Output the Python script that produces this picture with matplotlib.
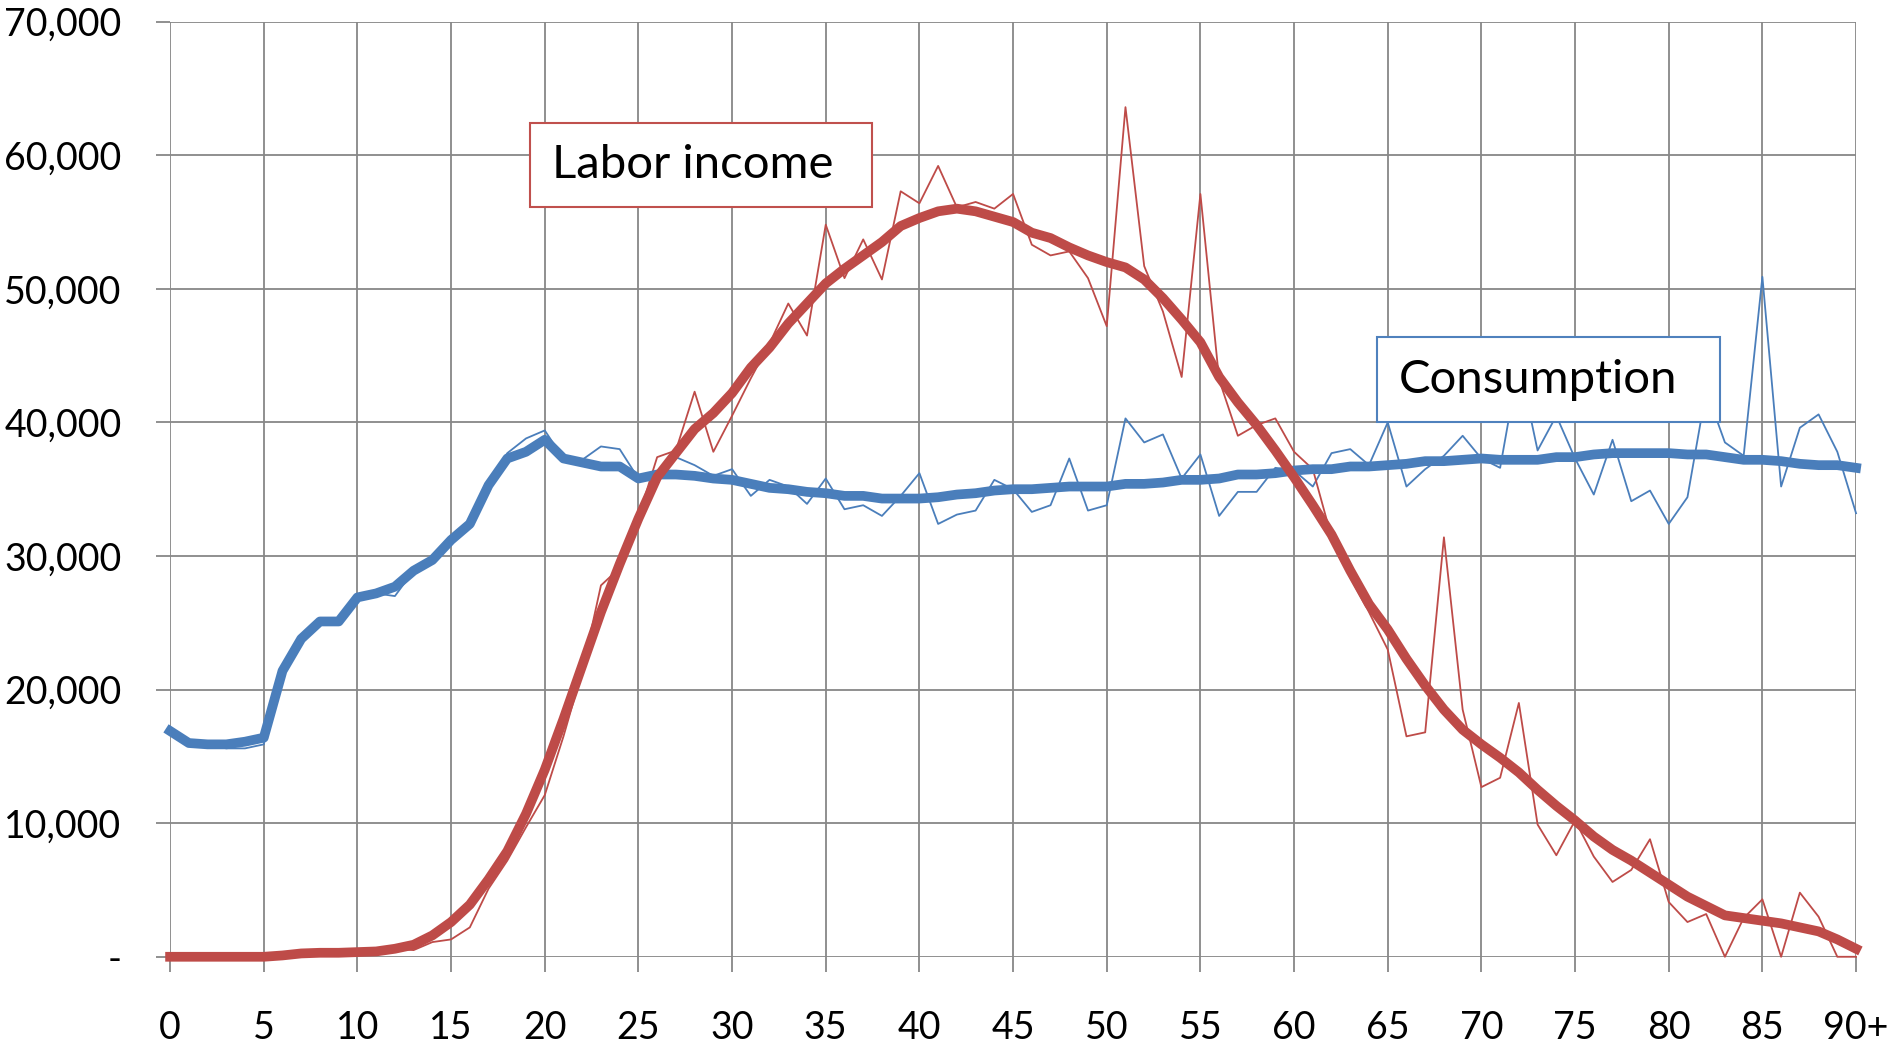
import matplotlib
matplotlib.use("Agg")
import matplotlib.pyplot as plt
from matplotlib.patches import Rectangle
from matplotlib.ticker import FuncFormatter
import numpy as np

# Ages 0..90 (last one is "90+")
ages = np.arange(0, 91)

# Consumption per capita, raw and smoothed (thousands)
consumption_raw = [
    16.9, 16.0, 15.9, 15.6, 15.6, 15.9, 21.4, 23.8, 25.1, 25.1,
    26.9, 27.2, 27.0, 28.9, 29.7, 31.2, 32.4, 35.3, 37.7, 38.8,
    39.4, 37.3, 37.2, 38.2, 38.0, 35.8, 35.8, 37.4, 36.8, 36.0,
    36.5, 34.5, 35.7, 35.2, 33.9, 35.8, 33.5, 33.8, 33.0, 34.5,
    36.2, 32.4, 33.1, 33.4, 35.7, 35.0, 33.3, 33.8, 37.3, 33.4,
    33.8, 40.3, 38.5, 39.1, 35.8, 37.6, 33.0, 34.8, 34.8, 36.6,
    36.4, 35.2, 37.7, 38.0, 36.8, 40.0, 35.2, 36.5, 37.5, 39.0,
    37.3, 36.6, 44.5, 37.9, 40.5, 37.3, 34.6, 38.7, 34.1, 34.9,
    32.4, 34.4, 42.4, 38.5, 37.5, 50.9, 35.2, 39.6, 40.6, 37.8,
    33.2,
]
consumption_smooth = [
    16.9, 16.0, 15.9, 15.9, 16.1, 16.4, 21.4, 23.8, 25.1, 25.1,
    26.9, 27.2, 27.7, 28.9, 29.7, 31.2, 32.4, 35.3, 37.3, 37.8,
    38.7, 37.3, 37.0, 36.7, 36.7, 35.8, 36.1, 36.1, 36.0, 35.8,
    35.7, 35.4, 35.1, 35.0, 34.8, 34.7, 34.5, 34.5, 34.3, 34.3,
    34.3, 34.4, 34.6, 34.7, 34.9, 35.0, 35.0, 35.1, 35.2, 35.2,
    35.2, 35.4, 35.4, 35.5, 35.7, 35.7, 35.8, 36.1, 36.1, 36.2,
    36.4, 36.5, 36.5, 36.7, 36.7, 36.8, 36.9, 37.1, 37.1, 37.2,
    37.3, 37.2, 37.2, 37.2, 37.4, 37.4, 37.6, 37.7, 37.7, 37.7,
    37.7, 37.6, 37.6, 37.4, 37.2, 37.2, 37.1, 36.9, 36.8, 36.8,
    36.6,
]

# Labor income per capita, raw and smoothed (thousands)
labor_raw = [
    0.0, 0.0, 0.0, 0.0, 0.0, 0.0, 0.1, 0.25, 0.3, 0.3,
    0.35, 0.4, 0.6, 0.5, 1.1, 1.3, 2.2, 5.1, 7.2, 9.7,
    12.1, 16.5, 21.4, 27.8, 29.1, 32.9, 37.4, 37.9, 42.3, 37.8,
    40.5, 43.3, 45.9, 48.9, 46.5, 54.8, 50.8, 53.7, 50.7, 57.3,
    56.4, 59.2, 56.1, 56.5, 56.0, 57.1, 53.3, 52.5, 52.8, 50.8,
    47.2, 63.6, 51.7, 48.3, 43.4, 57.1, 43.2, 39.0, 39.8, 40.3,
    37.8, 36.5, 31.4, 28.4, 25.8, 23.0, 16.5, 16.8, 31.4, 18.5,
    12.7, 13.4, 19.0, 9.9, 7.6, 10.2, 7.5, 5.6, 6.5, 8.8,
    4.1, 2.6, 3.2, 0.0, 2.9, 4.3, 0.0, 4.8, 3.0, 0.0,
    0.0,
]
labor_smooth = [
    0.0, 0.0, 0.0, 0.0, 0.0, 0.0, 0.1, 0.25, 0.3, 0.3,
    0.35, 0.4, 0.6, 0.9, 1.6, 2.6, 3.9, 5.8, 7.9, 10.7,
    14.0, 17.8, 21.8, 25.8, 29.4, 32.8, 35.9, 37.7, 39.5, 40.7,
    42.2, 44.1, 45.6, 47.4, 48.9, 50.4, 51.5, 52.5, 53.5, 54.7,
    55.3, 55.8, 56.0, 55.8, 55.4, 55.0, 54.2, 53.8, 53.1, 52.5,
    52.0, 51.6, 50.7, 49.3, 47.7, 46.0, 43.4, 41.5, 39.8, 37.9,
    35.9, 33.8, 31.6, 28.9, 26.4, 24.5, 22.3, 20.3, 18.5, 17.0,
    15.9, 14.9, 13.8, 12.5, 11.3, 10.2, 9.0, 8.0, 7.2, 6.3,
    5.4, 4.5, 3.8, 3.1, 2.9, 2.7, 2.5, 2.2, 1.9, 1.3,
    0.6,
]

x_ticks = list(range(0, 91, 5))
x_labels = [str(t) for t in x_ticks[:-1]] + ["90+"]
y_ticks = list(range(0, 70001, 10000))

BLUE = "#4A7EBB"
RED = "#BE4B48"
GRID = "#878787"

plt.rcParams["font.family"] = ["Lato", "DejaVu Sans"]

fig = plt.figure(figsize=(18.92, 10.55), dpi=100)
ax = fig.add_axes([0.0899, 0.0931, 0.8911, 0.8864])

to_units = lambda v: np.array(v) * 1000

ax.plot(ages, to_units(consumption_raw), color=BLUE, lw=1.3, zorder=3, clip_on=False)
ax.plot(ages, to_units(labor_raw), color=RED, lw=1.3, zorder=3, clip_on=False)
ax.plot(ages, to_units(consumption_smooth), color=BLUE, lw=7, zorder=4,
        solid_joinstyle="round", clip_on=False)
ax.plot(ages, to_units(labor_smooth), color=RED, lw=7, zorder=5,
        solid_joinstyle="round", clip_on=False)

ax.set_xlim(0, 90)
ax.set_ylim(0, 70000)
ax.set_xticks(x_ticks)
ax.set_xticklabels(x_labels)
ax.set_yticks(y_ticks)
ax.yaxis.set_major_formatter(FuncFormatter(lambda v, p: "-" if v == 0 else f"{int(v):,}"))

ax.grid(True, color=GRID, lw=1.3, zorder=1)
ax.set_axisbelow(True)
for s in ax.spines.values():
    s.set_visible(False)
ax.tick_params(axis="both", colors=GRID, width=1.3, labelcolor="black", labelsize=27)
ax.tick_params(axis="y", length=10, pad=25)
ax.tick_params(axis="x", length=11, pad=27)

# Series label boxes
def label_box(x0, y0, x1, y1, tx, text, edge):
    ax.add_patch(Rectangle((x0, y0), x1 - x0, y1 - y0, transform=ax.transAxes,
                           facecolor="white", edgecolor=edge, lw=1.5, zorder=10,
                           clip_on=False))
    ax.text(tx, (y0 + y1) / 2, text, transform=ax.transAxes, fontsize=34,
            ha="left", va="center", zorder=11)

label_box(0.2135, 0.8018, 0.4164, 0.8916, 0.2266, "Labor income", "#C0504D")
label_box(0.7159, 0.5718, 0.9193, 0.6627, 0.7289, "Consumption", "#4F81BD")

fig.savefig("out.png", dpi=100)
